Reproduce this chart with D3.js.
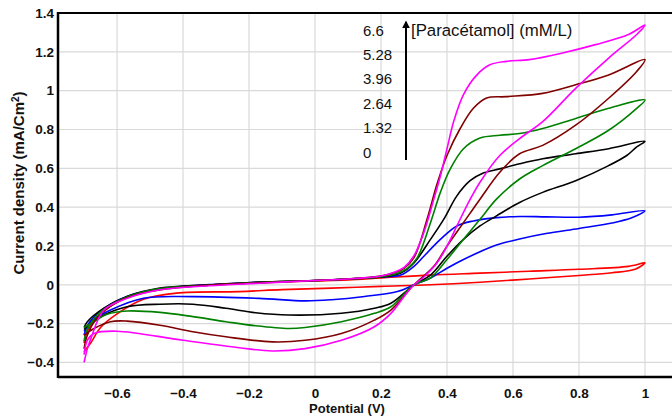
<!DOCTYPE html>
<html>
<head>
<meta charset="utf-8">
<title>Voltammogrammes paracétamol</title>
<style>
  body { margin: 0; background: #fff; }
  svg { display: block; font-family: "Liberation Sans", Arial, sans-serif; }
</style>
</head>
<body>
<script src="https://cdn.jsdelivr.net/npm/d3@7"></script>
<script>

// concentrations, top to bottom in the legend
var concLabels = ["6.6", "5.28", "3.96", "2.64", "1.32", "0"];
var xTicks = [-0.6, -0.4, -0.2, 0, 0.2, 0.4, 0.6, 0.8, 1];
var yTicks = [-0.4, -0.2, 0, 0.2, 0.4, 0.6, 0.8, 1, 1.2, 1.4];

// each loop: forward scan -0.7 -> 1.0 then back to -0.7  [E (V), j (mA/cm2)]
var curve0 = [[-0.70,-0.30],[-0.69,-0.24],[-0.66,-0.17],[-0.62,-0.11],[-0.57,-0.065],[-0.50,-0.03],[-0.40,-0.01],[-0.30,0.0],[-0.17,0.012],[0.0,0.02],[0.10,0.025],[0.20,0.035],[0.35,0.05],[0.50,0.06],[0.65,0.07],[0.80,0.08],[0.95,0.095],[1.0,0.113],
  [0.97,0.08],[0.90,0.062],[0.80,0.048],[0.65,0.03],[0.50,0.013],[0.35,0.0],[0.20,-0.008],[0.05,-0.017],[-0.10,-0.025],[-0.23,-0.035],[-0.42,-0.043],[-0.52,-0.075],[-0.60,-0.15],[-0.65,-0.22],[-0.68,-0.30],[-0.70,-0.345]];

var curve132 = [[-0.70,-0.26],[-0.69,-0.21],[-0.66,-0.15],[-0.62,-0.10],[-0.57,-0.06],[-0.50,-0.03],[-0.40,-0.008],[-0.30,0.003],[-0.17,0.013],[0.0,0.022],[0.10,0.03],[0.20,0.04],[0.26,0.05],[0.30,0.095],[0.33,0.147],[0.38,0.234],[0.43,0.303],[0.48,0.329],[0.55,0.346],[0.62,0.352],[0.70,0.35],[0.80,0.348],[0.90,0.36],[1.0,0.381],
  [0.96,0.345],[0.90,0.318],[0.80,0.29],[0.70,0.264],[0.62,0.236],[0.55,0.205],[0.50,0.17],[0.45,0.13],[0.40,0.085],[0.35,0.035],[0.30,0.0],[0.25,-0.035],[0.15,-0.06],[0.05,-0.077],[-0.03,-0.083],[-0.17,-0.07],[-0.37,-0.061],[-0.52,-0.069],[-0.62,-0.13],[-0.67,-0.18],[-0.70,-0.24]];

var curve264 = [[-0.70,-0.22],[-0.69,-0.19],[-0.64,-0.12],[-0.57,-0.06],[-0.47,-0.017],[-0.32,0.0],[-0.17,0.014],[0.0,0.022],[0.10,0.03],[0.20,0.04],[0.26,0.061],[0.30,0.113],[0.35,0.234],[0.39,0.337],[0.43,0.458],[0.47,0.536],[0.51,0.576],[0.56,0.597],[0.62,0.623],[0.69,0.649],[0.79,0.675],[0.89,0.701],[1.0,0.739],
  [0.975,0.71],[0.945,0.666],[0.89,0.614],[0.79,0.536],[0.69,0.476],[0.62,0.424],[0.55,0.355],[0.50,0.303],[0.45,0.234],[0.40,0.147],[0.35,0.05],[0.30,0.0],[0.23,-0.095],[0.18,-0.121],[0.08,-0.147],[-0.08,-0.156],[-0.18,-0.144],[-0.27,-0.121],[-0.37,-0.10],[-0.47,-0.10],[-0.57,-0.113],[-0.64,-0.156],[-0.68,-0.199],[-0.70,-0.23]];

var curve396 = [[-0.70,-0.29],[-0.69,-0.23],[-0.65,-0.14],[-0.58,-0.07],[-0.48,-0.022],[-0.32,-0.002],[-0.17,0.012],[0.0,0.022],[0.10,0.03],[0.20,0.042],[0.25,0.06],[0.28,0.085],[0.31,0.14],[0.35,0.32],[0.38,0.476],[0.41,0.597],[0.45,0.701],[0.50,0.756],[0.56,0.77],[0.62,0.779],[0.69,0.805],[0.79,0.857],[0.89,0.909],[1.0,0.952],
  [0.975,0.909],[0.89,0.796],[0.79,0.701],[0.69,0.614],[0.62,0.545],[0.55,0.441],[0.50,0.337],[0.45,0.234],[0.40,0.13],[0.35,0.035],[0.30,0.0],[0.23,-0.113],[0.18,-0.147],[0.08,-0.19],[-0.03,-0.22],[-0.08,-0.225],[-0.18,-0.211],[-0.27,-0.19],[-0.37,-0.164],[-0.47,-0.142],[-0.57,-0.135],[-0.63,-0.152],[-0.67,-0.19],[-0.70,-0.22]];

var curve528 = [[-0.70,-0.33],[-0.69,-0.26],[-0.66,-0.17],[-0.60,-0.09],[-0.50,-0.035],[-0.35,-0.005],[-0.17,0.01],[0.0,0.022],[0.10,0.03],[0.20,0.045],[0.24,0.062],[0.27,0.085],[0.30,0.14],[0.34,0.34],[0.37,0.52],[0.40,0.666],[0.44,0.805],[0.48,0.909],[0.52,0.962],[0.58,0.969],[0.69,0.986],[0.79,1.03],[0.89,1.081],[1.0,1.16],
  [0.975,1.099],[0.89,0.961],[0.79,0.822],[0.69,0.718],[0.62,0.675],[0.56,0.58],[0.50,0.441],[0.45,0.32],[0.40,0.199],[0.36,0.095],[0.30,0.0],[0.23,-0.13],[0.18,-0.182],[0.08,-0.251],[-0.03,-0.286],[-0.13,-0.294],[-0.27,-0.268],[-0.37,-0.242],[-0.47,-0.208],[-0.57,-0.187],[-0.62,-0.19],[-0.67,-0.225],[-0.70,-0.26]];

var curve66 = [[-0.70,-0.40],[-0.69,-0.33],[-0.68,-0.28],[-0.64,-0.13],[-0.57,-0.07],[-0.47,-0.026],[-0.32,-0.005],[-0.17,0.008],[0.0,0.022],[0.10,0.03],[0.20,0.045],[0.24,0.065],[0.27,0.09],[0.30,0.15],[0.33,0.27],[0.36,0.44],[0.38,0.56],[0.40,0.70],[0.42,0.84],[0.45,0.98],[0.49,1.08],[0.53,1.133],[0.58,1.151],[0.65,1.16],[0.75,1.194],[0.85,1.237],[0.95,1.289],[1.0,1.338],
  [0.975,1.289],[0.89,1.168],[0.79,1.012],[0.69,0.84],[0.62,0.753],[0.56,0.666],[0.50,0.528],[0.46,0.407],[0.43,0.303],[0.40,0.199],[0.37,0.113],[0.33,0.04],[0.30,0.0],[0.27,-0.06],[0.23,-0.147],[0.18,-0.216],[0.08,-0.286],[-0.03,-0.329],[-0.13,-0.341],[-0.23,-0.324],[-0.40,-0.286],[-0.60,-0.239],[-0.67,-0.251],[-0.69,-0.286],[-0.70,-0.36]];

var series = [
  {c: "0",    color: "#ff0000", pts: curve0},
  {c: "1.32", color: "#0000ff", pts: curve132},
  {c: "2.64", color: "#000000", pts: curve264},
  {c: "3.96", color: "#008000", pts: curve396},
  {c: "5.28", color: "#800000", pts: curve528},
  {c: "6.6",  color: "#ff00ff", pts: curve66}
];

var W = 672, H = 417;
var plot = {left: 58, right: 672, top: 13, bottom: 377};

var x = d3.scaleLinear().domain([-0.779, 1.082]).range([plot.left, plot.right]);
var y = d3.scaleLinear().domain([-0.475, 1.4]).range([plot.bottom, plot.top]);

var svg = d3.select("body").append("svg")
    .attr("width", W)
    .attr("height", H);

svg.append("rect").attr("width", W).attr("height", H).attr("fill", "#fff");

// grid
svg.append("g")
    .selectAll("line.vg").data(xTicks).enter().append("line")
    .attr("x1", function(d) { return x(d); }).attr("x2", function(d) { return x(d); })
    .attr("y1", plot.top).attr("y2", plot.bottom)
    .style("stroke", "#d9d9d9").style("stroke-width", "1.2px");
svg.append("g")
    .selectAll("line.hg").data(yTicks).enter().append("line")
    .attr("x1", plot.left).attr("x2", plot.right)
    .attr("y1", function(d) { return y(d); }).attr("y2", function(d) { return y(d); })
    .style("stroke", "#d9d9d9").style("stroke-width", "1.2px");

// axes
var xAxis = svg.append("g")
    .attr("transform", "translate(0," + plot.bottom + ")")
    .call(d3.axisBottom(x).tickValues(xTicks).tickSize(0).tickPadding(11)
      .tickFormat(function(d) { return d3.format("")(+d.toFixed(1)); }));
var yAxis = svg.append("g")
    .attr("transform", "translate(" + plot.left + ",0)")
    .call(d3.axisLeft(y).tickValues(yTicks).tickSize(0).tickPadding(4)
      .tickFormat(function(d) { return d3.format("")(+d.toFixed(1)); }));

[xAxis, yAxis].forEach(function(a) {
  a.select(".domain").remove();
  a.selectAll("text")
    .style("font-size", "13.5px")
    .style("font-weight", "bold")
    .style("fill", "#111");
});

svg.append("line").attr("x1", plot.left).attr("x2", plot.left)
    .attr("y1", plot.top - 1).attr("y2", plot.bottom + 1)
    .style("stroke", "#000").style("stroke-width", "2.5px");
svg.append("line").attr("x1", plot.left).attr("x2", plot.right)
    .attr("y1", plot.bottom).attr("y2", plot.bottom)
    .style("stroke", "#000").style("stroke-width", "2.5px");
svg.append("line").attr("x1", plot.left).attr("x2", plot.right)
    .attr("y1", plot.top).attr("y2", plot.top)
    .style("stroke", "#000").style("stroke-width", "2px");

// curves
var line = d3.line()
    .x(function(d) { return x(d[0]); })
    .y(function(d) { return y(d[1]); })
    .curve(d3.curveCatmullRom.alpha(0.5));

svg.append("g").selectAll("path").data(series).enter().append("path")
    .attr("d", function(s) { return line(s.pts); })
    .style("fill", "none")
    .style("stroke", function(s) { return s.color; })
    .style("stroke-width", "1.6px")
    .style("stroke-linejoin", "round");

// concentration labels + arrow
var legend = svg.append("g");
legend.selectAll("text.conc").data(concLabels).enter().append("text")
    .attr("x", 363)
    .attr("y", function(d, i) { return 35.5 + i * 24.4; })
    .style("font-size", "15px")
    .style("fill", "#111")
    .text(function(d) { return d; });

svg.append("defs").append("marker")
    .attr("id", "arrow").attr("viewBox", "0 0 10 10")
    .attr("refX", 8).attr("refY", 5)
    .attr("markerWidth", 4).attr("markerHeight", 4)
    .attr("orient", "auto")
  .append("path").attr("d", "M0,0 L10,5 L0,10 Z").attr("fill", "#000");

legend.append("line")
    .attr("x1", 406).attr("x2", 406)
    .attr("y1", 160).attr("y2", 22)
    .style("stroke", "#000").style("stroke-width", "2px")
    .attr("marker-end", "url(#arrow)");

legend.append("text")
    .attr("x", 411).attr("y", 36)
    .style("font-size", "16.8px")
    .style("fill", "#111")
    .text("[Paracétamol] (mM/L)");

// axis titles
var yt = svg.append("text")
    .attr("transform", "translate(24," + 183 + ") rotate(-90)")
    .attr("text-anchor", "middle")
    .style("font-size", "15px")
    .style("font-weight", "bold")
    .style("fill", "#111");
yt.append("tspan").text("Current density (mA/Cm");
yt.append("tspan").attr("baseline-shift", "super").style("font-size", "10px").text("2");
yt.append("tspan").text(")");

svg.append("text")
    .attr("x", 347).attr("y", 413)
    .attr("text-anchor", "middle")
    .style("font-size", "13px")
    .style("font-weight", "bold")
    .style("fill", "#111")
    .text("Potential (V)");

</script>
</body>
</html>
